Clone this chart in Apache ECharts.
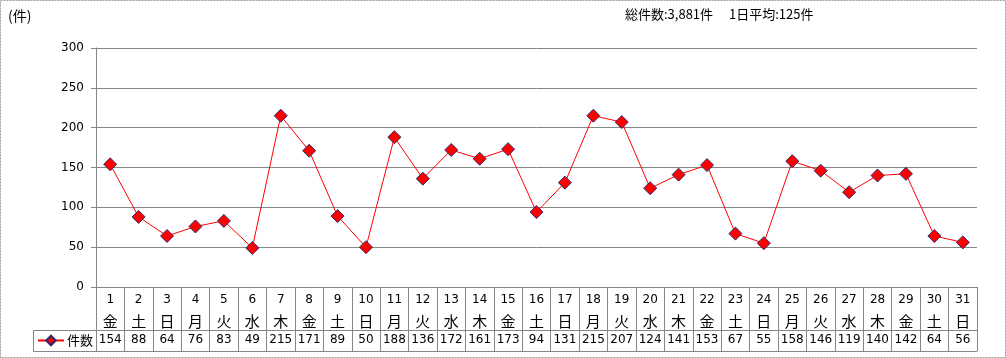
<!DOCTYPE html>
<html><head><meta charset="utf-8">
<script src="https://cdn.jsdelivr.net/npm/echarts@6/dist/echarts.min.js"></script>
<style>html,body{margin:0;padding:0;background:#fff}#c{width:1006px;height:358px}</style>
</head><body><div id="c"></div>
<script>
const days = ['1','2','3','4','5','6','7','8','9','10','11','12','13','14','15','16','17','18','19','20','21','22','23','24','25','26','27','28','29','30','31'];
const weekdays = ['金','土','日','月','火','水','木','金','土','日','月','火','水','木','金','土','日','月','火','水','木','金','土','日','月','火','水','木','金','土','日'];
const counts = [154,88,64,76,83,49,215,171,89,50,188,136,172,161,173,94,131,215,207,124,141,153,67,55,158,146,119,140,142,64,56];
const yTicks = [0,50,100,150,200,250,300];
const seriesName = '件数';
const unitLabel = '(件)';
const summaryText = '総件数:3,881件　 1日平均:125件';

const FONT = 'DejaVu Sans, Noto Sans CJK JP, sans-serif';
const GRAY = '#868686';
const chart = echarts.init(document.getElementById('c'), null, {renderer:'canvas'});
chart.setOption({
  animation:false,
  textStyle:{fontFamily:FONT},
  grid:{left:96,right:29,top:48,bottom:71},
  legend:{
    left:37, top:334, padding:0, itemWidth:26, itemHeight:12, itemGap:0,
    textStyle:{fontSize:13,color:'#000',fontFamily:'Noto Sans CJK JP',padding:[0,0,0,-2]},
    data:[seriesName]
  },
  xAxis:[
    {type:'category',data:days,position:'bottom',boundaryGap:true,
     axisLine:{show:true,lineStyle:{color:GRAY,width:1}},
     axisTick:{show:true,interval:0,length:64,lineStyle:{color:GRAY}},
     axisLabel:{interval:0,margin:3,color:'#000',
       formatter:(v,i)=>'{d|'+days[i]+'}\n{w|'+weekdays[i]+'}',
       rich:{d:{fontSize:12,lineHeight:20,fontFamily:FONT,color:'#000'},
             w:{fontSize:15,lineHeight:22,fontFamily:'Noto Sans CJK JP',color:'#000'}}}},
    {type:'category',data:counts.map(String),position:'bottom',offset:43,boundaryGap:true,
     axisLine:{show:true,lineStyle:{color:GRAY,width:1}},
     axisTick:{show:false},
     axisLabel:{interval:0,margin:4,fontSize:12,color:'#000',fontFamily:FONT}},
    {type:'category',data:days,position:'bottom',offset:64,boundaryGap:true,
     axisLine:{show:true,lineStyle:{color:GRAY,width:1}},
     axisTick:{show:false},axisLabel:{show:false}}
  ],
  yAxis:{type:'value',min:yTicks[0],max:yTicks[yTicks.length-1],interval:50,
    axisLine:{show:true,lineStyle:{color:GRAY}},
    axisTick:{show:true,length:5,lineStyle:{color:GRAY}},
    axisLabel:{margin:12,fontSize:12,color:'#000',fontFamily:FONT},
    splitLine:{show:true,lineStyle:{color:GRAY,width:1}}},
  series:[{
    name:seriesName,type:'line',xAxisIndex:0,data:counts,
    symbol:'diamond',symbolSize:13,
    lineStyle:{color:'#ff0000',width:1},
    itemStyle:{color:'#ff0000',borderColor:'#2b2b6b',borderWidth:1}
  }],
  graphic:[
    {type:'rect',shape:{x:0.5,y:0.5,width:1005,height:357},
     style:{fill:'none',stroke:'#999',lineWidth:1,lineDash:[2,1]}},
    {type:'text',left:8,top:9,style:{text:unitLabel,fontSize:14,fill:'#000',fontFamily:'Noto Sans CJK JP'}},
    {type:'text',left:625,top:8,style:{text:summaryText,fontSize:13,fill:'#000',fontFamily:'Noto Sans CJK JP'}},
    {type:'polyline',shape:{points:[[977,330.5],[33.5,330.5],[33.5,351.5],[977,351.5]]},
     style:{fill:'none',stroke:GRAY,lineWidth:1}},
    {type:'line',shape:{x1:96.5,y1:287,x2:96.5,y2:352},style:{stroke:GRAY,lineWidth:1}}
  ]
});
</script></body></html>
